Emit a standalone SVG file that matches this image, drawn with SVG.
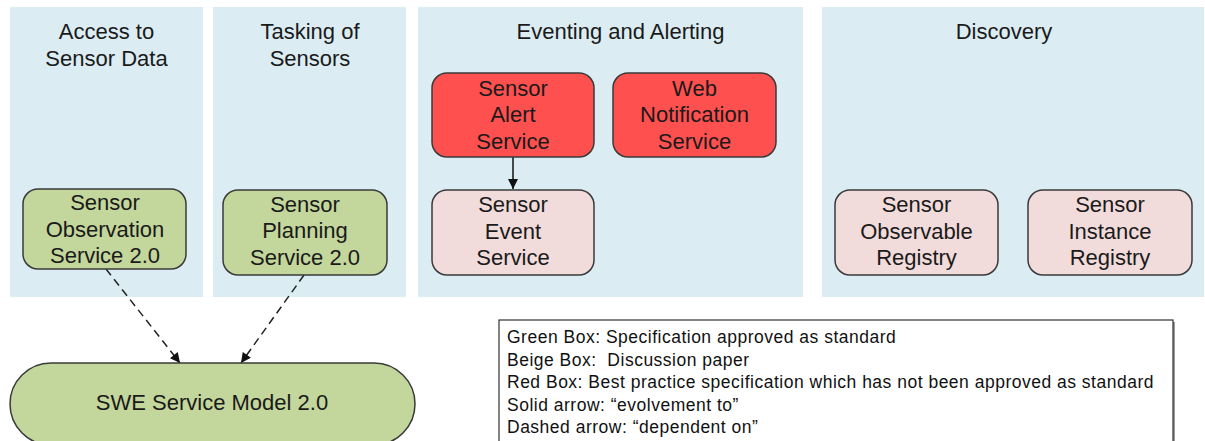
<svg xmlns="http://www.w3.org/2000/svg" width="1205" height="441" viewBox="0 0 1205 441">
  <defs>
    <style>
      .panel { fill: #DBEDF3; }
      .title { font-family: "Liberation Sans", Arial, sans-serif; font-size: 22px; fill: #1a1a1a; text-anchor: middle; }
      .lbl { font-family: "Liberation Sans", Arial, sans-serif; font-size: 22px; fill: #1a1a1a; text-anchor: middle; }
      .green { fill: #C3D69B; stroke: #3a3a3a; stroke-width: 1.5; }
      .red { fill: #FF5050; stroke: #3a3a3a; stroke-width: 1.5; }
      .beige { fill: #F2DCDB; stroke: #3a3a3a; stroke-width: 1.5; }
      .solid { stroke: #111; stroke-width: 1.5; fill: none; }
      .dashed { stroke: #222; stroke-width: 1.5; fill: none; stroke-dasharray: 8 5; }
      .legend { font-family: "Liberation Sans", Arial, sans-serif; font-size: 17.5px; letter-spacing: 0.5px; fill: #111; }
    </style>
    <marker id="arrow" viewBox="0 0 10 10" refX="10" refY="5" markerWidth="11" markerHeight="10" markerUnits="userSpaceOnUse" orient="auto">
      <path d="M0,0 L10,5 L0,10 Z" fill="#111"/>
    </marker>
  </defs>

  <rect width="1205" height="441" fill="#ffffff"/>

  <g id="panels">
    <g id="panel-access">
      <rect class="panel" x="10" y="7" width="193" height="290"/>
      <text class="title" x="106.5" y="39">Access to</text>
      <text class="title" x="106.5" y="66">Sensor Data</text>
    </g>
    <g id="panel-tasking">
      <rect class="panel" x="213" y="7" width="193" height="290"/>
      <text class="title" x="310" y="39">Tasking of</text>
      <text class="title" x="310" y="66">Sensors</text>
    </g>
    <g id="panel-eventing">
      <rect class="panel" x="418" y="7" width="385" height="290"/>
      <text class="title" x="620.5" y="39">Eventing and Alerting</text>
    </g>
    <g id="panel-discovery">
      <rect class="panel" x="822" y="7" width="382" height="290"/>
      <text class="title" x="1004" y="39">Discovery</text>
    </g>
  </g>

  <g id="connectors">
    <line class="solid" x1="513" y1="157" x2="513" y2="189" marker-end="url(#arrow)"/>
    <line class="dashed" x1="106" y1="269" x2="180" y2="363" marker-end="url(#arrow)"/>
    <line class="dashed" x1="304" y1="275" x2="241" y2="363" marker-end="url(#arrow)"/>
  </g>

  <g id="node-sos">
    <rect class="green" x="23" y="189" width="163" height="80" rx="15"/>
    <text class="lbl" x="105" y="210">Sensor</text>
    <text class="lbl" x="105" y="237">Observation</text>
    <text class="lbl" x="105" y="263">Service 2.0</text>
  </g>
  <g id="node-sps">
    <rect class="green" x="223" y="190" width="164" height="85" rx="15"/>
    <text class="lbl" x="305" y="212">Sensor</text>
    <text class="lbl" x="305" y="238">Planning</text>
    <text class="lbl" x="305" y="265">Service 2.0</text>
  </g>
  <g id="node-sas">
    <rect class="red" x="432" y="73" width="162" height="84" rx="15"/>
    <text class="lbl" x="513" y="96">Sensor</text>
    <text class="lbl" x="513" y="122">Alert</text>
    <text class="lbl" x="513" y="149">Service</text>
  </g>
  <g id="node-wns">
    <rect class="red" x="613" y="73" width="163" height="84" rx="15"/>
    <text class="lbl" x="694.5" y="96">Web</text>
    <text class="lbl" x="694.5" y="122">Notification</text>
    <text class="lbl" x="694.5" y="149">Service</text>
  </g>
  <g id="node-ses">
    <rect class="beige" x="432" y="190" width="162" height="85" rx="15"/>
    <text class="lbl" x="513" y="212">Sensor</text>
    <text class="lbl" x="513" y="239">Event</text>
    <text class="lbl" x="513" y="265">Service</text>
  </g>
  <g id="node-sor">
    <rect class="beige" x="835" y="190" width="163" height="85" rx="15"/>
    <text class="lbl" x="916.5" y="212">Sensor</text>
    <text class="lbl" x="916.5" y="239">Observable</text>
    <text class="lbl" x="916.5" y="265">Registry</text>
  </g>
  <g id="node-sir">
    <rect class="beige" x="1028" y="190" width="164" height="85" rx="15"/>
    <text class="lbl" x="1110" y="212">Sensor</text>
    <text class="lbl" x="1110" y="239">Instance</text>
    <text class="lbl" x="1110" y="265">Registry</text>
  </g>
  <g id="node-swe">
    <rect class="green" x="10" y="363" width="405" height="82" rx="41"/>
    <text class="lbl" x="212" y="410">SWE Service Model 2.0</text>
  </g>

  <g id="legend">
    <rect x="501" y="322" width="674" height="130" fill="#9a9a9a"/>
    <rect x="499" y="320" width="674" height="130" fill="#ffffff" stroke="#333" stroke-width="1.2"/>
    <text class="legend" x="507" y="343">Green Box: Specification approved as standard</text>
    <text class="legend" x="507" y="365.5" xml:space="preserve">Beige Box:  Discussion paper</text>
    <text class="legend" x="507" y="388">Red Box: Best practice specification which has not been approved as standard</text>
    <text class="legend" x="507" y="410.5">Solid arrow: “evolvement to”</text>
    <text class="legend" x="507" y="433">Dashed arrow: “dependent on”</text>
  </g>
</svg>
